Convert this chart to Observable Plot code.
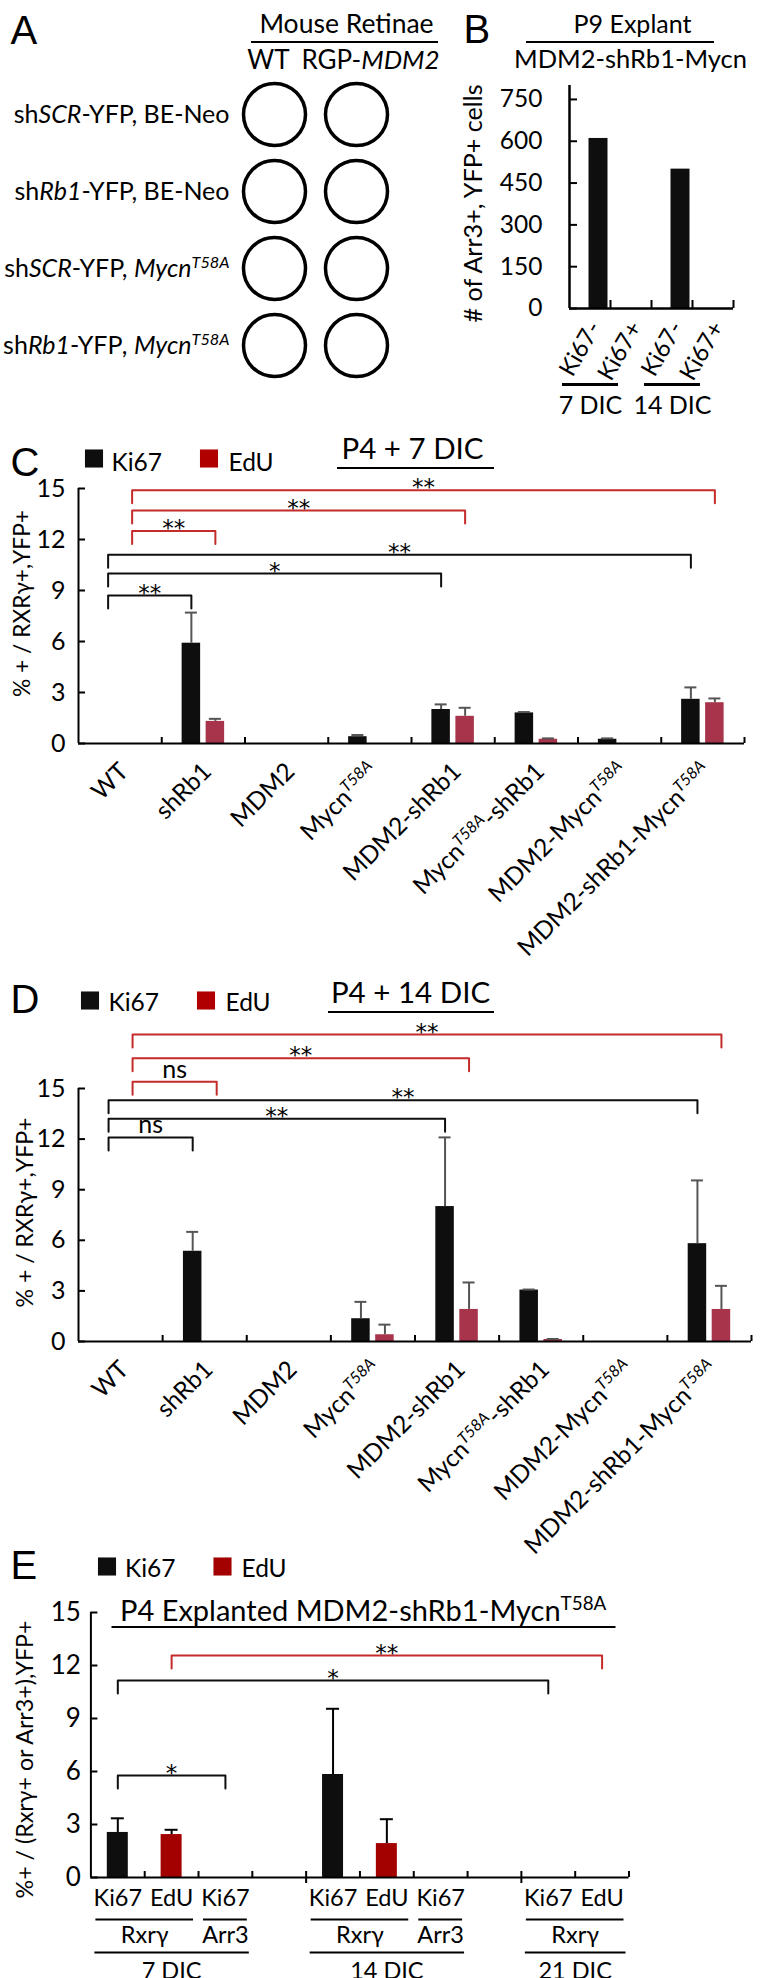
<!DOCTYPE html>
<html><head><meta charset="utf-8">
<script src="https://cdn.jsdelivr.net/npm/d3@7"></script>
<script src="https://cdn.jsdelivr.net/npm/@observablehq/plot@0.6"></script>
<style>
body{margin:0;background:#fff;}
#fig{position:relative;width:783px;height:1978px;overflow:hidden;background:#fff;}
.panel{position:absolute;left:0;top:0;}
</style></head><body><div id="fig"></div>
<script>
// ================= DATA =================
// Panel A
const rowsA = ["sh<i>SCR</i>-YFP, BE-Neo", "sh<i>Rb1</i>-YFP, BE-Neo", "sh<i>SCR</i>-YFP, <i>Mycn</i><sup><i>T58A</i></sup>", "sh<i>Rb1</i>-YFP<i>, Mycn</i><sup><i>T58A</i></sup>"];
const colsA = ["WT", "RGP-<i>MDM2</i>"];

// Panel B
const catsB = ["Ki67-", "Ki67+", "Ki67-", "Ki67+"];
const daysB = ["7 DIC", "7 DIC", "14 DIC", "14 DIC"];
const countsB = [610, 0, 500, 0];
const yTicksB = [0, 150, 300, 450, 600, 750];

// Panels C, D
const genoIds = ["WT", "shRb1", "MDM2", "Mycn", "MDM2-shRb1", "Mycn-shRb1", "MDM2-Mycn", "MDM2-shRb1-Mycn"];
const genoLabels = ["WT", "shRb1", "MDM2", "Mycn<sup><i>T58A</i></sup>", "MDM2-shRb1", "Mycn<sup><i>T58A</i></sup>-shRb1", "MDM2-Mycn<sup><i>T58A</i></sup>", "MDM2-shRb1-Mycn<sup><i>T58A</i></sup>"];
const yTicks15 = [0, 3, 6, 9, 12, 15];

const ki67C = [0, 5.9, 0, 0.4, 2.0, 1.8, 0.25, 2.6];
const ki67ErrC = [0, 1.8, 0, 0.1, 0.3, 0.05, 0.05, 0.7];
const eduC = [0, 1.3, 0, 0, 1.6, 0.25, 0, 2.4];
const eduErrC = [0, 0.15, 0, 0, 0.5, 0.05, 0, 0.25];
const bracketsC = [
  {series: "EdU", from: "WT", to: "MDM2-shRb1-Mycn", level: 14.9, label: "**"},
  {series: "EdU", from: "WT", to: "MDM2-shRb1", level: 13.7, label: "**"},
  {series: "EdU", from: "WT", to: "shRb1", level: 12.5, label: "**"},
  {series: "Ki67", from: "WT", to: "MDM2-shRb1-Mycn", level: 11.1, label: "**"},
  {series: "Ki67", from: "WT", to: "MDM2-shRb1", level: 10.0, label: "*"},
  {series: "Ki67", from: "WT", to: "shRb1", level: 8.7, label: "**"}
];

const ki67D = [0, 5.35, 0, 1.35, 8.0, 3.05, 0, 5.8];
const ki67ErrD = [0, 1.15, 0, 1.0, 4.1, 0.03, 0, 3.75];
const eduD = [0, 0, 0, 0.4, 1.9, 0.12, 0, 1.9];
const eduErrD = [0, 0, 0, 0.6, 1.6, 0.03, 0, 1.4];
const bracketsD = [
  {series: "EdU", from: "WT", to: "MDM2-shRb1-Mycn", level: 18.2, label: "**"},
  {series: "EdU", from: "WT", to: "MDM2-shRb1", level: 16.8, label: "**"},
  {series: "EdU", from: "WT", to: "shRb1", level: 15.4, label: "ns"},
  {series: "Ki67", from: "WT", to: "MDM2-shRb1-Mycn", level: 14.3, label: "**"},
  {series: "Ki67", from: "WT", to: "MDM2-shRb1", level: 13.2, label: "**"},
  {series: "Ki67", from: "WT", to: "shRb1", level: 12.1, label: "ns"}
];

// Panel E
const labelsE  = ["Ki67", "EdU", "Ki67", "", "Ki67", "EdU", "Ki67", "", "Ki67", "EdU"];
const markersE = ["Rxrγ", "Rxrγ", "Arr3", "", "Rxrγ", "Rxrγ", "Arr3", "", "Rxrγ", "Rxrγ"];
const daysE    = ["7 DIC", "7 DIC", "7 DIC", "", "14 DIC", "14 DIC", "14 DIC", "", "21 DIC", "21 DIC"];
const valuesE  = [2.55, 2.43, 0, null, 5.83, 1.92, 0, null, 0, 0];
const errE     = [0.8, 0.27, 0, null, 3.72, 1.38, 0, null, 0, 0];
const bracketsE = [
  {from: 1, to: 9, level: 12.56, label: "**", series: "EdU"},
  {from: 0, to: 8, level: 11.15, label: "*", series: "Ki67"},
  {from: 0, to: 2, level: 5.77, label: "*", series: "Ki67"}
];

// ================= STYLE =================
const FONT = "Lato, 'Noto Sans', sans-serif";
const LETTER_FONT = "'Liberation Sans', Arial, sans-serif";
const STAR_FONT = "'DejaVu Sans', sans-serif";
const BLACK = "#0e0e0e", RED_BAR = "#a8344c", RED_LEG = "#b00000", RED_E = "#a30000", RED_LINE = "#c42b2b", ERR_GRAY = "#555555";

const fig = document.getElementById("fig");

function richify(svg) {
  svg.querySelectorAll("text").forEach(t => {
    const s = t.textContent;
    if (t.childElementCount === 0 && /<(i|sup)>/.test(s)) {
      t.innerHTML = s.replace(/<i>/g, '<tspan font-style="italic">')
        .replace(/<sup>/g, '<tspan baseline-shift="super" font-size="65%">')
        .replace(/<\/(i|sup)>/g, '</tspan>');
    }
  });
}
function fitText(svg, str, len) {
  svg.querySelectorAll("text").forEach(t => {
    if (t.textContent === str) { t.setAttribute("textLength", len); t.setAttribute("lengthAdjust", "spacingAndGlyphs"); }
  });
}
function place(svg, top, left) {
  const d = document.createElement("div");
  d.className = "panel";
  d.style.top = top + "px"; d.style.left = left + "px";
  d.appendChild(svg); fig.appendChild(d);
  richify(svg);
  return svg;
}
// annotation text positioned in svg pixels (titles, panel letters)
function txt(ml, mt, s, x, y, o = {}) {
  return Plot.text([s], {text: d => d, frameAnchor: "top-left", dx: x - ml, dy: y - mt, lineAnchor: "bottom", textAnchor: "start", fill: "black", ...o});
}
// decorative underlines (title rules)
function hlines(segs) {
  return () => {
    const g = d3.create("svg:g");
    for (const [x1, x2, y, w] of segs) g.append("line").attr("x1", x1).attr("x2", x2).attr("y1", y).attr("y2", y).attr("stroke", "black").attr("stroke-width", w);
    return g.node();
  };
}
function legendMarks(ml, mt, items) {
  return items.flatMap(it => [
    Plot.dot([it.name], {frameAnchor: "top-left", dx: it.sx - ml, dy: it.sy - mt, symbol: "square", r: 10.2, fill: it.color, stroke: "none"}),
    txt(ml, mt, it.name, it.tx, it.ty, {fontSize: 24.5})
  ]);
}
function groupsOf(keys) {
  const out = [];
  keys.forEach((k, i) => {
    if (!k) return;
    const last = out[out.length - 1];
    if (last && last.key === k && last.last === i - 1) last.last = i;
    else out.push({key: k, first: i, last: i});
  });
  return out;
}
const baseStyle = {fontFamily: FONT, color: "black", background: "none", overflow: "visible"};

// ================= PANEL A =================
{
  const W = 445, H = 420, ml = 274, mr = 89, mt = 114, mb = 75;
  const cells = rowsA.flatMap(r => colsA.map(c => ({row: r, col: c})));
  const headerDx = [-6, 14];
  const svg = Plot.plot({
    width: W, height: H, marginLeft: ml, marginRight: mr, marginTop: mt, marginBottom: mb,
    style: baseStyle,
    x: {type: "point", domain: colsA, padding: 0, axis: null},
    y: {type: "point", domain: rowsA, padding: 0},
    marks: [
      Plot.dot(cells, {x: "col", y: "row", r: 31, stroke: "black", strokeWidth: 3.5}),
      Plot.axisY({tickSize: 0, tickPadding: 45, fontSize: 25, label: null}),
      ...colsA.map((c, k) => Plot.text([c], {x: d => d, frameAnchor: "top", dx: headerDx[k], dy: 68 - mt, lineAnchor: "bottom", fontSize: 26})),
      txt(ml, mt, "A", 10, 43, {fontSize: 40, fontFamily: LETTER_FONT}),
      txt(ml, mt, "Mouse Retinae", 346, 32, {fontSize: 26.5, textAnchor: "middle"}),
      hlines([[251, 438, 42, 2]])
    ]
  });
  place(svg, 0, 0);
}

// ================= PANEL B =================
{
  const W = 363, H = 430, ml = 149, mr = 50, mt = 85, mb = 122;
  const n = catsB.length, bw = (W - ml - mr) / n, barW = 19, off = 8.5;
  const rows = countsB.map((v, i) => ({v, i}));
  const groups = groupsOf(daysB);
  const ylab = "# of Arr3+, YFP+ cells";
  const svg = Plot.plot({
    width: W, height: H, marginLeft: ml, marginRight: mr, marginTop: mt, marginBottom: mb,
    style: baseStyle,
    x: {domain: [0, n], axis: null},
    y: {domain: [0, 800]},
    marks: [
      Plot.rect(rows.filter(r => r.v > 0), {x1: r => r.i, x2: r => r.i + 1, y1: 0, y2: r => r.v, fill: BLACK,
        insetLeft: bw / 2 + off - barW / 2, insetRight: bw / 2 - off - barW / 2}),
      Plot.ruleY([0], {strokeWidth: 2.5}),
      Plot.ruleX([0], {strokeWidth: 2.5}),
      Plot.ruleY(yTicksB, {y: d => d, x1: 0, x2: 0, insetRight: -8, strokeWidth: 2}),
      Plot.ruleX(d3.range(1, n + 1), {x: d => d, y1: 0, y2: 0, insetTop: -8, strokeWidth: 2}),
      Plot.axisY(yTicksB, {tickSize: 0, tickPadding: 27, fontSize: 24.5, label: null}),
      Plot.text(catsB, {x: (d, i) => i + 0.5, frameAnchor: "bottom", rotate: -60, textAnchor: "end", lineAnchor: "middle", dx: 5, dy: 15, fontSize: 24}),
      Plot.ruleY(groups, {x1: g => g.first, x2: g => g.last + 1, y: () => 0, dx: -20, dy: 76, insetLeft: 13, insetRight: 13, strokeWidth: 3}),
      Plot.text(groups, {x: g => (g.first + g.last + 1) / 2, frameAnchor: "bottom", text: "key", dx: -20, dy: 105, lineAnchor: "bottom", fontSize: 25}),
      txt(ml, mt, ylab, 53, 203, {rotate: -90, textAnchor: "middle", lineAnchor: "middle", fontSize: 25}),
      txt(ml, mt, "B", 43, 42, {fontSize: 40, fontFamily: LETTER_FONT}),
      txt(ml, mt, "P9 Explant", 212, 32, {fontSize: 25, textAnchor: "middle"}),
      txt(ml, mt, "MDM2-shRb1-Mycn", 210, 67, {fontSize: 25.5, textAnchor: "middle"}),
      hlines([[106, 294, 42, 2]])
    ]
  });
  place(svg, 0, 420);
  fitText(svg, ylab, 238);
}

// ================= PANELS C, D =================
function genoPanel(cfg) {
  const {top, H, ml, mr, mt, mb, ki, kiErr, ed, edErr, brackets} = cfg;
  const W = 783, n = genoIds.length;
  const bw = (W - ml - mr) / n, ph = H - mt - mb;
  const drop = 13 / (ph / 15);
  const off = 12, barW = 18.5;
  const ylab = "% + / RXRγ+,YFP+";
  const rows = genoIds.map((g, i) => ({g, i, Ki67: ki[i], Ki67err: kiErr[i], EdU: ed[i], EdUerr: edErr[i]}));
  const series = [
    {name: "Ki67", fill: BLACK, dx: -off, bracket: BLACK},
    {name: "EdU", fill: RED_BAR, dx: off, bracket: RED_LINE}
  ];
  const marks = [];
  for (const s of series) {
    const v = s.name, e = s.name + "err";
    marks.push(Plot.rect(rows.filter(r => r[v] > 0), {x1: r => r.i, x2: r => r.i + 1, y1: 0, y2: r => r[v], fill: s.fill,
      insetLeft: bw / 2 + s.dx - barW / 2, insetRight: bw / 2 - s.dx - barW / 2}));
    const we = rows.filter(r => r[v] > 0 && r[e] > 0);
    marks.push(Plot.ruleX(we, {x: r => r.i + 0.5, y1: r => r[v], y2: r => r[v] + r[e], dx: s.dx, stroke: ERR_GRAY, strokeWidth: 2}));
    marks.push(Plot.ruleY(we, {y: r => r[v] + r[e], x1: r => r.i + 0.5, x2: r => r.i + 0.5, insetLeft: -6, insetRight: -6, dx: s.dx, stroke: ERR_GRAY, strokeWidth: 2}));
    const bs = brackets.filter(b => b.series === s.name).map(b => ({...b, a: genoIds.indexOf(b.from) + 0.5, c: genoIds.indexOf(b.to) + 0.5}));
    const pts = bs.flatMap((b, k) => [[b.a, b.level - drop], [b.a, b.level], [b.c, b.level], [b.c, b.level - drop]].map(([x, y]) => ({x, y, id: k})));
    marks.push(Plot.line(pts, {x: "x", y: "y", z: "id", stroke: s.bracket, strokeWidth: 2, dx: s.dx}));
    marks.push(Plot.text(bs.filter(b => b.label !== "ns"), {x: b => (b.a + b.c) / 2, y: "level", text: "label", dx: s.dx, dy: 5, lineAnchor: "bottom", fontSize: 23, fontFamily: STAR_FONT}));
    marks.push(Plot.text(bs.filter(b => b.label === "ns"), {x: b => (b.a + b.c) / 2, y: "level", text: "label", dx: s.dx, dy: -4, lineAnchor: "bottom", fontSize: 25}));
  }
  marks.push(
    Plot.ruleY([0], {strokeWidth: 2}),
    Plot.ruleX([0], {strokeWidth: 2}),
    Plot.ruleY(yTicks15, {y: d => d, x1: 0, x2: 0, insetRight: -7, strokeWidth: 2}),
    Plot.ruleX(d3.range(1, n + 1), {x: d => d, y1: 0, y2: 0, insetTop: -6, strokeWidth: 2}),
    Plot.axisY(yTicks15, {tickSize: 0, tickPadding: 13, fontSize: 25, label: null}),
    Plot.text(genoLabels, {x: (d, i) => i + 0.5, frameAnchor: "bottom", rotate: -45, textAnchor: "end", lineAnchor: "middle", dx: 4, dy: 24, fontSize: 24.5}),
    txt(ml, mt, ylab, cfg.ylabX, cfg.ylabY, {rotate: -90, textAnchor: "middle", lineAnchor: "middle", fontSize: 24}),
    txt(ml, mt, cfg.letter, 10, cfg.letterY, {fontSize: 40, fontFamily: LETTER_FONT}),
    txt(ml, mt, cfg.title, cfg.titleX, cfg.titleY, {fontSize: 29.5, textAnchor: "middle"}),
    hlines([[cfg.ulX1, cfg.ulX2, cfg.ulY, 2]]),
    ...legendMarks(ml, mt, [
      {name: "Ki67", color: BLACK, sx: cfg.legX[0], sy: cfg.legSY, tx: cfg.legTX[0], ty: cfg.legTY},
      {name: "EdU", color: RED_LEG, sx: cfg.legX[1], sy: cfg.legSY, tx: cfg.legTX[1], ty: cfg.legTY}
    ])
  );
  const svg = Plot.plot({
    width: W, height: H, marginLeft: ml, marginRight: mr, marginTop: mt, marginBottom: mb,
    style: baseStyle,
    x: {domain: [0, n], axis: null},
    y: {domain: [0, 15]},
    marks
  });
  place(svg, top, 0);
  fitText(svg, ylab, cfg.ylabLen);
}

genoPanel({top: 425, H: 550, ml: 78, mr: 39, mt: 63, mb: 232,
  ki: ki67C, kiErr: ki67ErrC, ed: eduC, edErr: eduErrC, brackets: bracketsC,
  letter: "C", letterY: 50, title: "P4 + 7 DIC", titleX: 412, titleY: 33,
  ulX1: 337, ulX2: 494, ulY: 43, ylabX: 22, ylabY: 178, ylabLen: 187,
  legX: [93.5, 208.5], legTX: [111, 228], legSY: 33, legTY: 45});

genoPanel({top: 975, H: 600, ml: 78, mr: 32, mt: 113, mb: 234,
  ki: ki67D, kiErr: ki67ErrD, ed: eduD, edErr: eduErrD, brackets: bracketsD,
  letter: "D", letterY: 37, title: "P4 + 14 DIC", titleX: 410, titleY: 27,
  ulX1: 328, ulX2: 494, ulY: 37, ylabX: 25, ylabY: 237, ylabLen: 190,
  legX: [89.5, 205.5], legTX: [108, 225], legSY: 25, legTY: 35});

// ================= PANEL E =================
{
  const W = 783, H = 438, ml = 90.4, mr = 154.5, mt = 72, mb = 101;
  const n = labelsE.length, bw = (W - ml - mr) / n, ph = H - mt - mb;
  const drop = 13 / (ph / 15), barW = 21;
  const ylab = "%+ / (Rxrγ+ or Arr3+),YFP+";
  const rows = valuesE.map((v, i) => ({i, v, err: errE[i], series: labelsE[i]})).filter(r => r.v > 0);
  const fillOf = s => s === "EdU" ? RED_E : BLACK;
  const bs = bracketsE.map(b => ({...b, a: b.from + 0.5, c: b.to + 0.5}));
  const pts = bs.flatMap((b, k) => [[b.a, b.level - drop], [b.a, b.level], [b.c, b.level], [b.c, b.level - drop]].map(([x, y]) => ({x, y, id: k, series: b.series})));
  const g1 = groupsOf(markersE.map((m, i) => m && daysE[i] + "|" + m)).map(g => ({...g, label: g.key.split("|")[1]}));
  const g2 = groupsOf(daysE);
  const catLabels = labelsE.map((l, i) => ({l, i})).filter(d => d.l);
  const svg = Plot.plot({
    width: W, height: H, marginLeft: ml, marginRight: mr, marginTop: mt, marginBottom: mb,
    style: baseStyle,
    x: {domain: [0, n], axis: null},
    y: {domain: [0, 15]},
    marks: [
      Plot.rect(rows, {x1: r => r.i, x2: r => r.i + 1, y1: 0, y2: "v", fill: r => fillOf(r.series),
        insetLeft: (bw - barW) / 2, insetRight: (bw - barW) / 2}),
      Plot.ruleX(rows.filter(r => r.err > 0), {x: r => r.i + 0.5, y1: "v", y2: r => r.v + r.err, stroke: "black", strokeWidth: 2}),
      Plot.ruleY(rows.filter(r => r.err > 0), {y: r => r.v + r.err, x1: r => r.i + 0.5, x2: r => r.i + 0.5, insetLeft: -6.5, insetRight: -6.5, stroke: "black", strokeWidth: 2}),
      Plot.line(pts, {x: "x", y: "y", z: "id", stroke: p => p.series === "EdU" ? RED_LINE : BLACK, strokeWidth: 2}),
      Plot.text(bs, {x: b => (b.a + b.c) / 2, y: "level", text: "label", dy: 5, lineAnchor: "bottom", fontSize: 23, fontFamily: STAR_FONT}),
      Plot.ruleY([0], {strokeWidth: 2}),
      Plot.ruleX([0], {strokeWidth: 2}),
      Plot.ruleY(yTicks15, {y: d => d, x1: 0, x2: 0, insetRight: -7, strokeWidth: 2}),
      Plot.ruleX(d3.range(1, n + 1), {x: d => d, y1: 0, y2: 0, insetTop: -6, strokeWidth: 2}),
      Plot.ruleX(g2.slice(0, -1).map(g => g.last + 2), {x: d => d, y1: 0, y2: 0, insetBottom: -6, strokeWidth: 2}),
      Plot.axisY(yTicks15, {tickSize: 0, tickPadding: 10, fontSize: 26, label: null}),
      Plot.text(catLabels, {x: d => d.i + 0.5, text: "l", frameAnchor: "bottom", dy: 28, lineAnchor: "bottom", fontSize: 23.5}),
      Plot.ruleY(g1, {x1: g => g.first, x2: g => g.last + 1, y: () => 0, dy: 42, insetLeft: 5, insetRight: 5, strokeWidth: 2}),
      Plot.text(g1, {x: g => (g.first + g.last + 1) / 2, text: "label", frameAnchor: "bottom", dy: 65, lineAnchor: "bottom", fontSize: 23.5}),
      Plot.ruleY(g2, {x1: g => g.first, x2: g => g.last + 1, y: () => 0, dy: 75, insetLeft: 4, insetRight: 3, strokeWidth: 2}),
      Plot.text(g2, {x: g => (g.first + g.last + 1) / 2, text: "key", frameAnchor: "bottom", dy: 101, lineAnchor: "bottom", fontSize: 23.5}),
      txt(ml, mt, ylab, 25, 219, {rotate: -90, textAnchor: "middle", lineAnchor: "middle", fontSize: 23}),
      txt(ml, mt, "E", 10, 38, {fontSize: 40, fontFamily: LETTER_FONT}),
      txt(ml, mt, "P4 Explanted MDM2-shRb1-Mycn<sup>T58A</sup>", 119.5, 80, {fontSize: 29}),
      hlines([[111.5, 615.5, 87, 2]]),
      ...legendMarks(ml, mt, [
        {name: "Ki67", color: BLACK, sx: 106.5, sy: 26, tx: 124.5, ty: 36},
        {name: "EdU", color: RED_E, sx: 222, sy: 26, tx: 241, ty: 36}
      ])
    ]
  });
  place(svg, 1540, 0);
  fitText(svg, ylab, 278);
}
</script></body></html>
